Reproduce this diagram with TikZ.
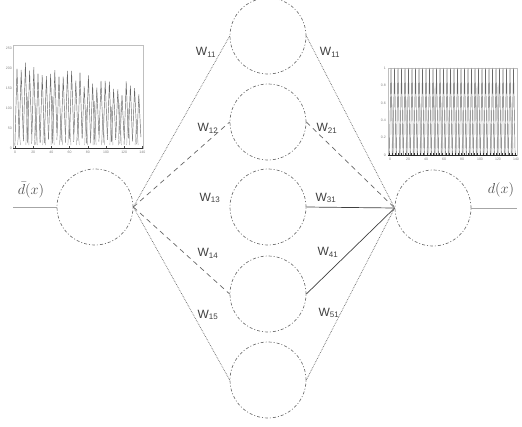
\documentclass[tikz,border=0pt]{standalone}
\usepackage{fontspec}
\setmainfont{Liberation Sans}
\begin{document}
\begin{tikzpicture}[x=1pt,y=-1pt,
  neuron/.style={circle, draw=black!55, line width=0.7pt,
    dash pattern=on 3pt off 2pt on 1pt off 2pt, minimum size=76pt, inner sep=0pt},
  dotlink/.style={draw=black!60, line width=0.7pt, densely dotted},
  dashlink/.style={draw=black!60, line width=0.7pt, dash pattern=on 5pt off 4pt},
  solidlink/.style={draw=black!75, line width=0.7pt},
  wlabel/.style={font=\fontsize{12}{12}\selectfont, text=black!75, inner sep=0pt},
  iolabel/.style={font=\fontsize{14}{14}\selectfont, text=black!70, inner sep=1pt},
  frame/.style={draw=black!25, line width=0.4pt},
  tick/.style={font=\fontsize{3.5}{3.5}\selectfont, text=black!50, inner sep=0pt},
  sig/.style={draw=black!60, line width=0.45pt}
]
\useasboundingbox (0,0) rectangle (522,426);

% ---- neurons ----
\node[neuron] (in) at (95,207) {};
\node[neuron] (out) at (433,208) {};
\node[neuron] (h1) at (268,36) {};
\node[neuron] (h2) at (268,122) {};
\node[neuron] (h3) at (268,207) {};
\node[neuron] (h4) at (268,294) {};
\node[neuron] (h5) at (268,380) {};

% ---- input and output lines ----
\coordinate (inL) at (13,207);
\coordinate (outR) at (517,208);
\draw[draw=black!35, line width=0.5pt] (inL) -- (in.west);
\draw[draw=black!35, line width=0.5pt] (out.east) -- (outR);
\node[iolabel] (din) at (31,190) {$\bar{d}(x)$};
\node[iolabel] (dout) at (501,190) {$d(x)$};

% ---- weights: input to hidden ----
\draw[dotlink]  (in.east) -- (h1.west);
\draw[dashlink] (in.east) -- (h2.west);
\draw[dashlink] (in.east) -- (h4.west);
\draw[dotlink]  (in.east) -- (h5.west);

% ---- weights: hidden to output ----
\draw[dotlink]   (h1.east) -- (out.west);
\draw[dashlink]  (h2.east) -- (out.west);
\draw[solidlink] (h3.east) -- (out.west);
\draw[solidlink] (h4.east) -- (out.west);
\draw[dotlink]   (h5.east) -- (out.west);

% ---- weight labels ----
\node[wlabel] (w11) at (206,52)  {W\textsubscript{11}};
\node[wlabel] (w12) at (208,128) {W\textsubscript{12}};
\node[wlabel] (w13) at (210,198) {W\textsubscript{13}};
\node[wlabel] (w14) at (208,253) {W\textsubscript{14}};
\node[wlabel] (w15) at (208,315) {W\textsubscript{15}};
\node[wlabel] (v11) at (330,52)  {W\textsubscript{11}};
\node[wlabel] (v21) at (327,128) {W\textsubscript{21}};
\node[wlabel] (v31) at (326,198) {W\textsubscript{31}};
\node[wlabel] (v41) at (328,252) {W\textsubscript{41}};
\node[wlabel] (v51) at (329,313) {W\textsubscript{51}};

% ---- input signal plot ----
\draw[frame] (13,45) rectangle (143,148);
\pgfmathsetseed{11}
\foreach \i in {0,...,29} {
  \pgfmathsetmacro{\px}{17+\i*4.2}
  \pgfmathsetmacro{\ph}{58+\i*0.9+16*rnd}
  \pgfmathsetmacro{\bl}{138+8*rnd}
  \pgfmathsetmacro{\br}{132+12*rnd}
  \draw[sig] (\px-2.1,\bl) -- (\px,\ph) -- (\px+2.1,\br);
}
\foreach \i in {0,...,14} {
  \pgfmathsetmacro{\px}{19+\i*8.4}
  \pgfmathsetmacro{\ph}{95+40*rnd}
  \draw[sig, draw=black!35] (\px-1.5,145) -- (\px,\ph) -- (\px+1.5,145);
}
\draw[draw=black!80, line width=0.7pt] (13,148) -- (143,148);
\foreach \t [count=\k from 0] in {0,20,40,60,80,100,120,140} {
  \node[tick] at (15+\k*18.2,152) {\t};
  \draw[black!70, line width=0.4pt] (15+\k*18.2,148) -- (15+\k*18.2,146);
}
\foreach \t [count=\k from 0] in {0,50,100,150,200,250} {
  \node[tick, anchor=east] at (12,148-\k*20) {\t};
}

% ---- output signal plot ----
\draw[frame] (388,68) rectangle (517,155);
\foreach \i in {0,...,35} {
  \pgfmathsetmacro{\px}{391+\i*3.5}
  \draw[sig] (\px-1.6,155) -- (\px,68) -- (\px+1.6,155);
}
\foreach \i in {0,...,17} {
  \pgfmathsetmacro{\px}{393+\i*7}
  \pgfmathsetmacro{\ph}{85+50*rnd}
  \draw[sig, draw=black!30] (\px-1,155) -- (\px,\ph) -- (\px+1,155);
}
\draw[draw=black!85, line width=0.8pt] (388,155) -- (517,155);
\foreach \k in {0,...,40} {
  \draw[black!80, line width=0.4pt] (389+\k*3.15,155) -- (389+\k*3.15,152.5);
}
\foreach \t [count=\k from 0] in {0,20,40,60,80,100,120,140} {
  \node[tick] at (390+\k*18,159) {\t};
}
\foreach \t [count=\k from 0] in {0,0.2,0.4,0.6,0.8,1} {
  \node[tick, anchor=east] at (386,155-\k*17.4) {\t};
}
\end{tikzpicture}
\end{document}
